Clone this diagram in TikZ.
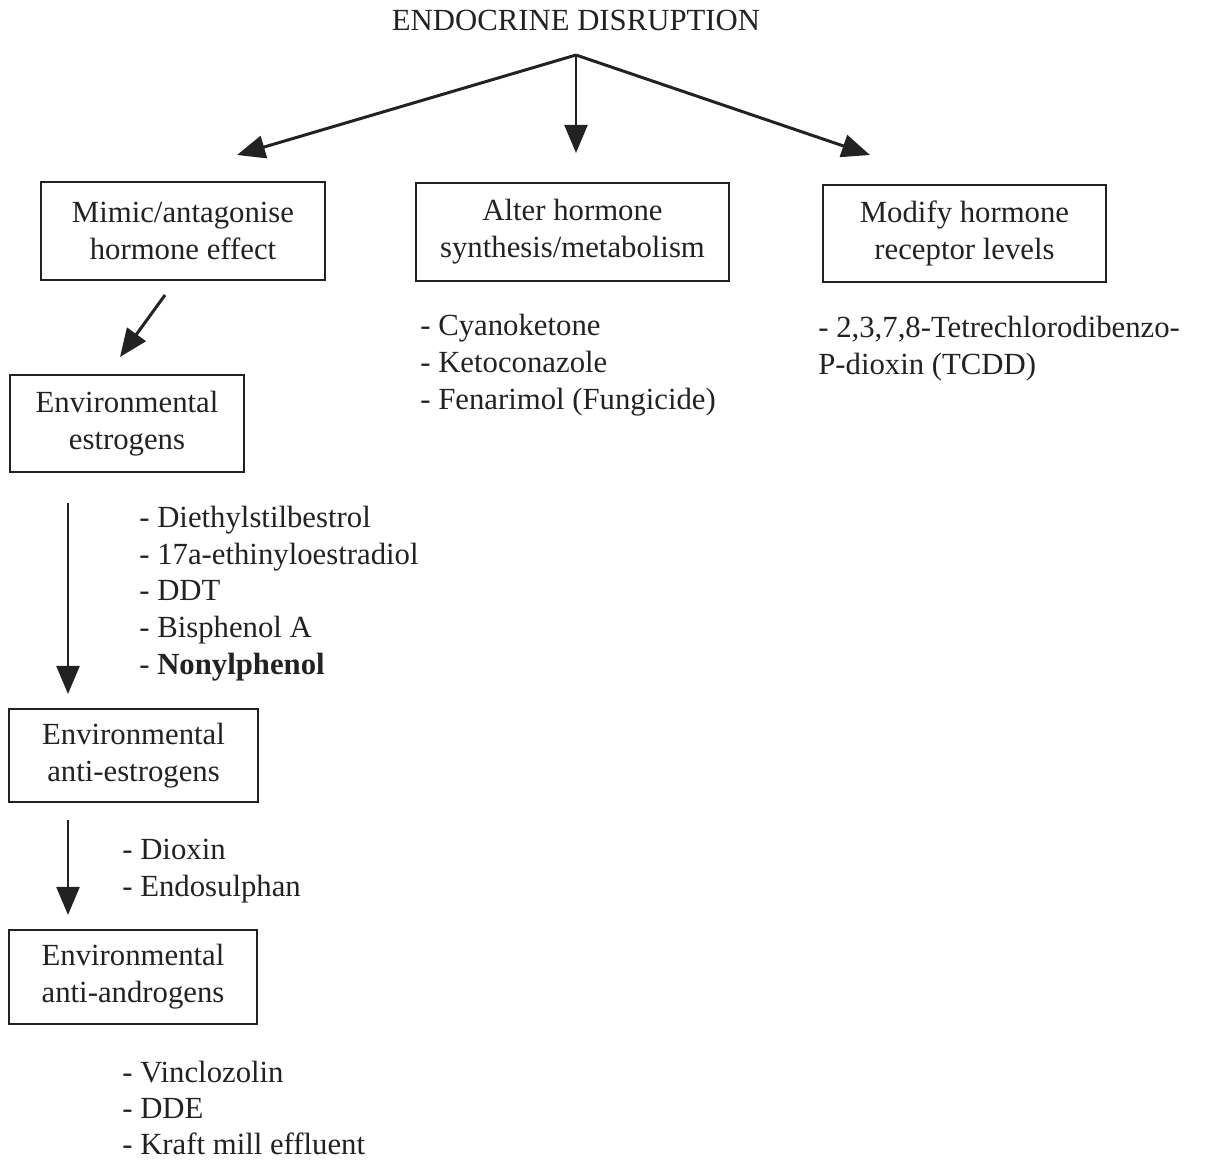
\documentclass[tikz,border=0pt]{standalone}
\usepackage{fontspec}
\setmainfont{Liberation Serif}
\usetikzlibrary{arrows.meta}
\definecolor{ink}{HTML}{222222}
\tikzset{
  txt/.style={inner sep=0pt, text=ink, font=\fontsize{17.5}{21}\selectfont},
  box/.style={draw=ink, line width=0.8pt, align=center, inner sep=0pt, text=ink, font=\fontsize{17.5}{21}\selectfont},
  arr/.style={draw=ink, line width=1.7pt, -{Triangle[length=16pt,width=13pt]}},
  item/.style={txt, anchor=base west}
}
\begin{document}
\begin{tikzpicture}[x=0.02cm,y=-0.02cm]
\useasboundingbox (0,0) rectangle (1211,1161);
\node[txt, anchor=base] (title) at (576,30) {ENDOCRINE DISRUPTION};
\coordinate (o) at (576,55);
\coordinate (t1) at (237,155);
\coordinate (t2) at (576,153);
\coordinate (t3) at (870,155);
\draw[arr] (o) -- (t1);
\draw[arr] (o) -- (t2);
\draw[arr] (o) -- (t3);

\node[box, minimum width=5.68cm, minimum height=1.96cm] (b1) at (183,231) {Mimic/antagonise\\hormone effect};
\node[box, minimum width=6.26cm, minimum height=1.96cm] (b2) at (572.5,232) {Alter hormone\\synthesis/metabolism};
\node[box, minimum width=5.66cm, minimum height=1.94cm] (b3) at (964.5,233.5) {Modify hormone\\receptor levels};

\node[item] (c1) at (420,335) {- Cyanoketone};
\node[item] (c2) at (420,372) {- Ketoconazole};
\node[item] (c3) at (420,409) {- Fenarimol (Fungicide)};

\node[item] (d1) at (818,337) {- 2,3,7,8-Tetrechlorodibenzo-};
\node[item] (d2) at (818,374) {P-dioxin (TCDD)};

\coordinate (s1) at (165,295);
\coordinate (e1) at (120,357);
\draw[arr] (s1) -- (e1);

\node[box, minimum width=4.68cm, minimum height=1.94cm] (b4) at (127,423.5) {Environmental\\estrogens};

\coordinate (s2) at (68,503);
\coordinate (e2) at (68,694);
\draw[arr] (s2) -- (e2);
\node[item] (f1) at (139,527) {- Diethylstilbestrol};
\node[item] (f2) at (139,564) {- 17a-ethinyloestradiol};
\node[item] (f3) at (139,600) {- DDT};
\node[item] (f4) at (139,637) {- Bisphenol A};
\node[item] (f5) at (139,674) {- \textbf{Nonylphenol}};

\node[box, minimum width=4.98cm, minimum height=1.86cm] (b5) at (133.5,755.5) {Environmental\\anti-estrogens};

\coordinate (s3) at (68,820);
\coordinate (e3) at (68,915);
\draw[arr] (s3) -- (e3);
\node[item] (g1) at (122,859) {- Dioxin};
\node[item] (g2) at (122,896) {- Endosulphan};

\node[box, minimum width=4.96cm, minimum height=1.88cm] (b6) at (133,977) {Environmental\\anti-androgens};

\node[item] (h1) at (122,1082) {- Vinclozolin};
\node[item] (h2) at (122,1118) {- DDE};
\node[item] (h3) at (122,1154) {- Kraft mill effluent};
\end{tikzpicture}
\end{document}
